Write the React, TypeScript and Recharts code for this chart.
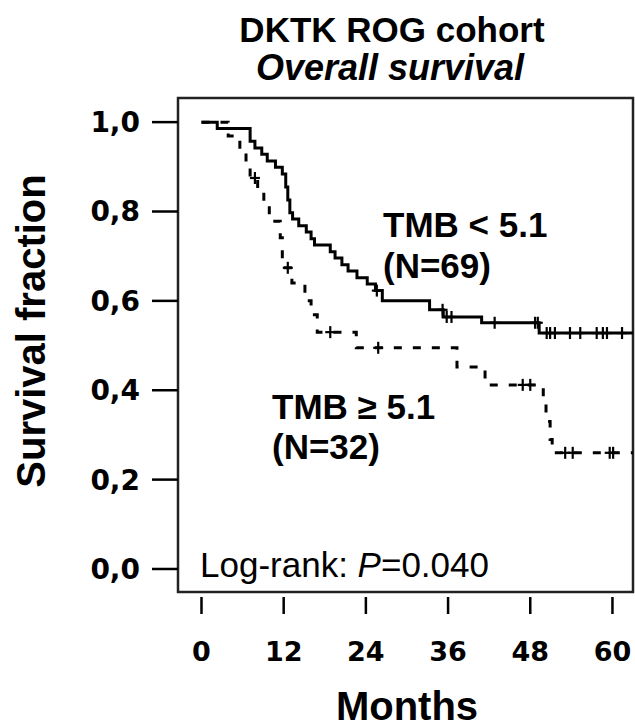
import React from "react";
import { ComposedChart, Line, Scatter, XAxis, YAxis, ReferenceArea } from "recharts";

// TMB < 5.1 (N=69) – Kaplan-Meier steps (months, survival fraction)
const lowTimes = [0, 2.3, 7.1, 7.8, 8.8, 9.6, 10.8, 11.8, 12.3, 12.6, 12.9, 13.3, 14.2, 15.3, 16.0, 16.5, 18.8, 19.5, 20.5, 21.4, 22.7, 24.2, 25.4, 26.4, 33.3, 35.3, 40.9, 49.3, 63.0];
const lowSurv = [1.0, 0.986, 0.957, 0.942, 0.928, 0.913, 0.899, 0.884, 0.855, 0.826, 0.797, 0.783, 0.768, 0.754, 0.739, 0.725, 0.71, 0.696, 0.681, 0.667, 0.652, 0.638, 0.623, 0.6, 0.58, 0.564, 0.551, 0.528, 0.528];
const lowCensor = [25.6, 35.2, 35.8, 36.5, 42.8, 48.7, 49.1, 50.4, 50.9, 51.6, 53.8, 55.3, 57.7, 58.6, 59.2, 61.4];

// TMB >= 5.1 (N=32)
const highTimes = [0, 3.9, 5.6, 6.5, 7.1, 8.2, 9.1, 9.9, 11.5, 11.8, 13.2, 15.1, 16.0, 16.9, 22.6, 37.3, 41.4, 49.9, 50.3, 50.9, 51.2, 63.0];
const highSurv = [1.0, 0.969, 0.938, 0.906, 0.875, 0.844, 0.813, 0.778, 0.741, 0.674, 0.64, 0.6, 0.569, 0.53, 0.495, 0.452, 0.412, 0.37, 0.33, 0.29, 0.26, 0.26];
const highCensor = [7.8, 12.6, 18.8, 25.8, 46.9, 48.0, 53.1, 54.2, 59.6, 60.1];

const xTicks = [0, 12, 24, 36, 48, 60];
const yTicks = [0, 0.2, 0.4, 0.6, 0.8, 1.0];

const X_DOMAIN: [number, number] = [-3.43, 63.0];
const Y_DOMAIN: [number, number] = [-0.0515, 1.054];

const survAt = (times: number[], surv: number[], t: number) => {
  let v = surv[0];
  for (let i = 0; i < times.length; i++) if (times[i] <= t) v = surv[i];
  return v;
};

const lowData = lowTimes.map((t, i) => ({ t, s: lowSurv[i] }));
const highData = highTimes.map((t, i) => ({ t, s: highSurv[i] }));
const lowCens = lowCensor.map((t) => ({ t, s: survAt(lowTimes, lowSurv, t) }));
const highCens = highCensor.map((t) => ({ t, s: survAt(highTimes, highSurv, t) }));

const Plus = (props: any) => {
  const { cx, cy } = props;
  if (cx == null || cy == null) return null;
  return (
    <g>
      <line x1={cx} x2={cx} y1={cy - 6} y2={cy + 6} stroke="#000" strokeWidth={2.2} />
      <line x1={cx - 5} x2={cx + 5} y1={cy} y2={cy} stroke="#000" strokeWidth={2.2} />
    </g>
  );
};

const XTick = (props: any) => {
  const { x, y, payload } = props;
  return (
    <g>
      <line x1={x} x2={x} y1={y + 5} y2={y + 22} stroke="#000" strokeWidth={2.5} />
      <text x={x} y={y + 69} textAnchor="middle" fontFamily="DejaVu Sans" fontWeight="bold" fontSize={27} fill="#000">
        {payload.value}
      </text>
    </g>
  );
};

const fmtY = (v: number) => v.toFixed(1).replace(".", ",");

const sans = "'Liberation Sans', Arial, sans-serif";

export default function App() {
  return (
    <div style={{ position: "fixed", left: 0, top: 0, width: 635, height: 728, overflow: "hidden", background: "#fff" }}>
      <ComposedChart width={635} height={728} margin={{ top: 98, right: 2, left: 98, bottom: 56 }}>
        <XAxis
          type="number"
          dataKey="t"
          domain={X_DOMAIN}
          ticks={xTicks}
          allowDataOverflow
          axisLine={false}
          tickLine={false}
          tickSize={0}
          tickMargin={0}
          height={80}
          tick={<XTick />}
          interval={0}
        />
        <YAxis
          type="number"
          dataKey="s"
          domain={Y_DOMAIN}
          ticks={yTicks}
          allowDataOverflow
          axisLine={false}
          tickLine={{ stroke: "#000", strokeWidth: 2.5 }}
          tickSize={26}
          tickMargin={12}
          width={80}
          interval={0}
          tickFormatter={fmtY}
          tick={{ fontFamily: "DejaVu Sans", fontWeight: "bold", fontSize: 28, fill: "#000" }}
        />
        <ReferenceArea x1={X_DOMAIN[0]} x2={X_DOMAIN[1]} y1={Y_DOMAIN[0]} y2={Y_DOMAIN[1]} fill="none" fillOpacity={0} stroke="#222" strokeWidth={2.5} ifOverflow="visible" />
        <Line data={lowData} dataKey="s" type="stepAfter" stroke="#000" strokeWidth={3} dot={false} activeDot={false} isAnimationActive={false} />
        <Line data={highData} dataKey="s" type="stepAfter" stroke="#000" strokeWidth={3} strokeDasharray="8 11" dot={false} activeDot={false} isAnimationActive={false} />
        <Scatter data={lowCens} dataKey="s" shape={<Plus />} isAnimationActive={false} />
        <Scatter data={highCens} dataKey="s" shape={<Plus />} isAnimationActive={false} />
      </ComposedChart>
      <svg width={635} height={728} style={{ position: "absolute", left: 0, top: 0, pointerEvents: "none" }}>
        <text x={392} y={42} textAnchor="middle" fontFamily={sans} fontWeight="bold" fontSize={35} fill="#000">DKTK ROG cohort</text>
        <text x={390} y={80} textAnchor="middle" fontFamily={sans} fontWeight="bold" fontStyle="italic" fontSize={36} fill="#000">Overall survival</text>
        <text x={383} y={237} fontFamily={sans} fontWeight="bold" fontSize={35} fill="#000">TMB &lt; 5.1</text>
        <text x={383} y={278} fontFamily={sans} fontWeight="bold" fontSize={35} fill="#000">(N=69)</text>
        <text x={272} y={419} fontFamily={sans} fontWeight="bold" fontSize={35} fill="#000">TMB ≥ 5.1</text>
        <text x={272} y={459} fontFamily={sans} fontWeight="bold" fontSize={35} fill="#000">(N=32)</text>
        <text x={200} y={577} fontFamily={sans} fontSize={35} fill="#000">
          Log-rank: <tspan fontStyle="italic">P</tspan>=0.040
        </text>
        <text x={45} y={331} transform="rotate(-90 45 331)" textAnchor="middle" fontFamily={sans} fontWeight="bold" fontSize={40} fill="#000">Survival fraction</text>
        <text x={407} y={720} textAnchor="middle" fontFamily={sans} fontWeight="bold" fontSize={40} fill="#000">Months</text>
      </svg>
    </div>
  );
}
